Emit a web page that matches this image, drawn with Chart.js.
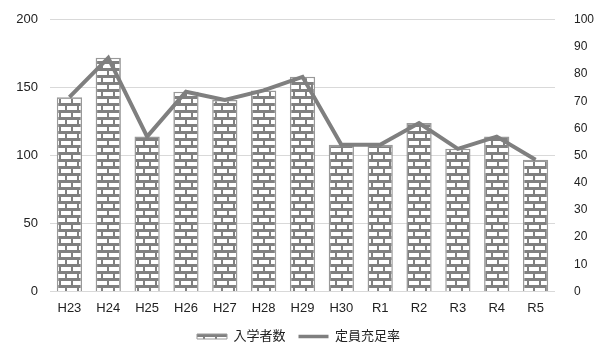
<!DOCTYPE html>
<html lang="ja">
<head>
<meta charset="utf-8">
<title>入学者数と定員充足率</title>
<script src="https://cdn.jsdelivr.net/npm/chart.js@4.4.1/dist/chart.umd.min.js"></script>
<style>
  html, body { margin: 0; padding: 0; background: #fff; }
  #wrap { width: 597px; height: 345px; position: relative; }
</style>
</head>
<body>
<div id="wrap"><canvas id="enrollChart"></canvas></div>
<script>
// 年度ごとの入学者数と定員充足率
const years = ['H23', 'H24', 'H25', 'H26', 'H27', 'H28', 'H29', 'H30', 'R1', 'R2', 'R3', 'R4', 'R5'];
const enrolled = [143, 172, 114, 147, 141, 148, 158, 108, 108, 124, 105, 114, 97];
const fillRate = [71.5, 86, 57, 73.5, 70.5, 74, 79, 54, 54, 62, 52.5, 57, 48.5];
const leftTicks = [0, 50, 100, 150, 200];
const rightTicks = [0, 10, 20, 30, 40, 50, 60, 70, 80, 90, 100];

const FONT = '"Liberation Sans", Arial, "Noto Sans CJK JP", sans-serif';
const LINE_GRAY = '#7f7f7f';

// brick fill for the bars: white bricks on gray mortar, rows offset by half a brick
function makeBrickPattern() {
    const c = document.createElement('canvas');
    c.width = 12;
    c.height = 14;
    const g = c.getContext('2d');
    g.fillStyle = '#808080';
    g.fillRect(0, 0, 12, 14);
    g.fillStyle = '#ffffff';
    g.fillRect(1, 1, 10, 4);
    g.fillRect(0, 8, 5, 4);
    g.fillRect(7, 8, 5, 4);
    return g.createPattern(c, 'repeat');
}
const brick = makeBrickPattern();

const ctx = document.getElementById('enrollChart').getContext('2d');
new Chart(ctx, {
    type: 'bar',
    data: {
        labels: years,
        datasets: [
            {
                type: 'bar',
                label: '入学者数',
                data: enrolled,
                yAxisID: 'y',
                backgroundColor: brick,
                borderColor: '#999999',
                borderWidth: 1.5,
                categoryPercentage: 0.65,
                barPercentage: 1,
                order: 1
            },
            {
                type: 'line',
                label: '定員充足率',
                data: fillRate,
                yAxisID: 'y1',
                borderColor: LINE_GRAY,
                backgroundColor: LINE_GRAY,
                borderWidth: 4,
                pointRadius: 0,
                tension: 0,
                fill: false,
                order: 0
            }
        ]
    },
    options: {
        responsive: true,
        maintainAspectRatio: false,
        animation: false,
        layout: { padding: { top: 13, left: 0, right: 0, bottom: -8 } },
        scales: {
            x: {
                offset: true,
                grid: { display: false },
                border: { display: false },
                ticks: { color: '#222', font: { family: FONT, size: 13 }, padding: 1, maxRotation: 0 }
            },
            y: {
                position: 'left',
                min: 0,
                max: 200,
                afterBuildTicks: axis => { axis.ticks = leftTicks.map(v => ({ value: v })); },
                afterFit: axis => { axis.width = 50; },
                grid: { color: '#d9d9d9', lineWidth: 1, drawTicks: false },
                border: { display: false },
                ticks: { color: '#222', font: { family: FONT, size: 13 }, padding: 12 }
            },
            y1: {
                position: 'right',
                min: 0,
                max: 100,
                afterBuildTicks: axis => { axis.ticks = rightTicks.map(v => ({ value: v })); },
                afterFit: axis => { axis.width = 42; },
                grid: { display: false },
                border: { display: false },
                ticks: { color: '#222', font: { family: FONT, size: 12 }, padding: 11 }
            }
        },
        plugins: {
            legend: {
                position: 'bottom',
                labels: {
                    color: '#222',
                    font: { family: FONT, size: 13 },
                    usePointStyle: true,
                    pointStyleWidth: 30,
                    boxHeight: 5,
                    padding: 13,
                    generateLabels: chart => [
                        {
                            text: '入学者数',
                            fillStyle: brick,
                            strokeStyle: '#999999',
                            lineWidth: 1,
                            pointStyle: 'rect',
                            fontColor: '#222',
                            datasetIndex: 0
                        },
                        {
                            text: '定員充足率',
                            fillStyle: LINE_GRAY,
                            strokeStyle: LINE_GRAY,
                            lineWidth: 3.5,
                            pointStyle: 'line',
                            fontColor: '#222',
                            datasetIndex: 1
                        }
                    ]
                }
            },
            tooltip: { enabled: false }
        }
    }
});
</script>
</body>
</html>
